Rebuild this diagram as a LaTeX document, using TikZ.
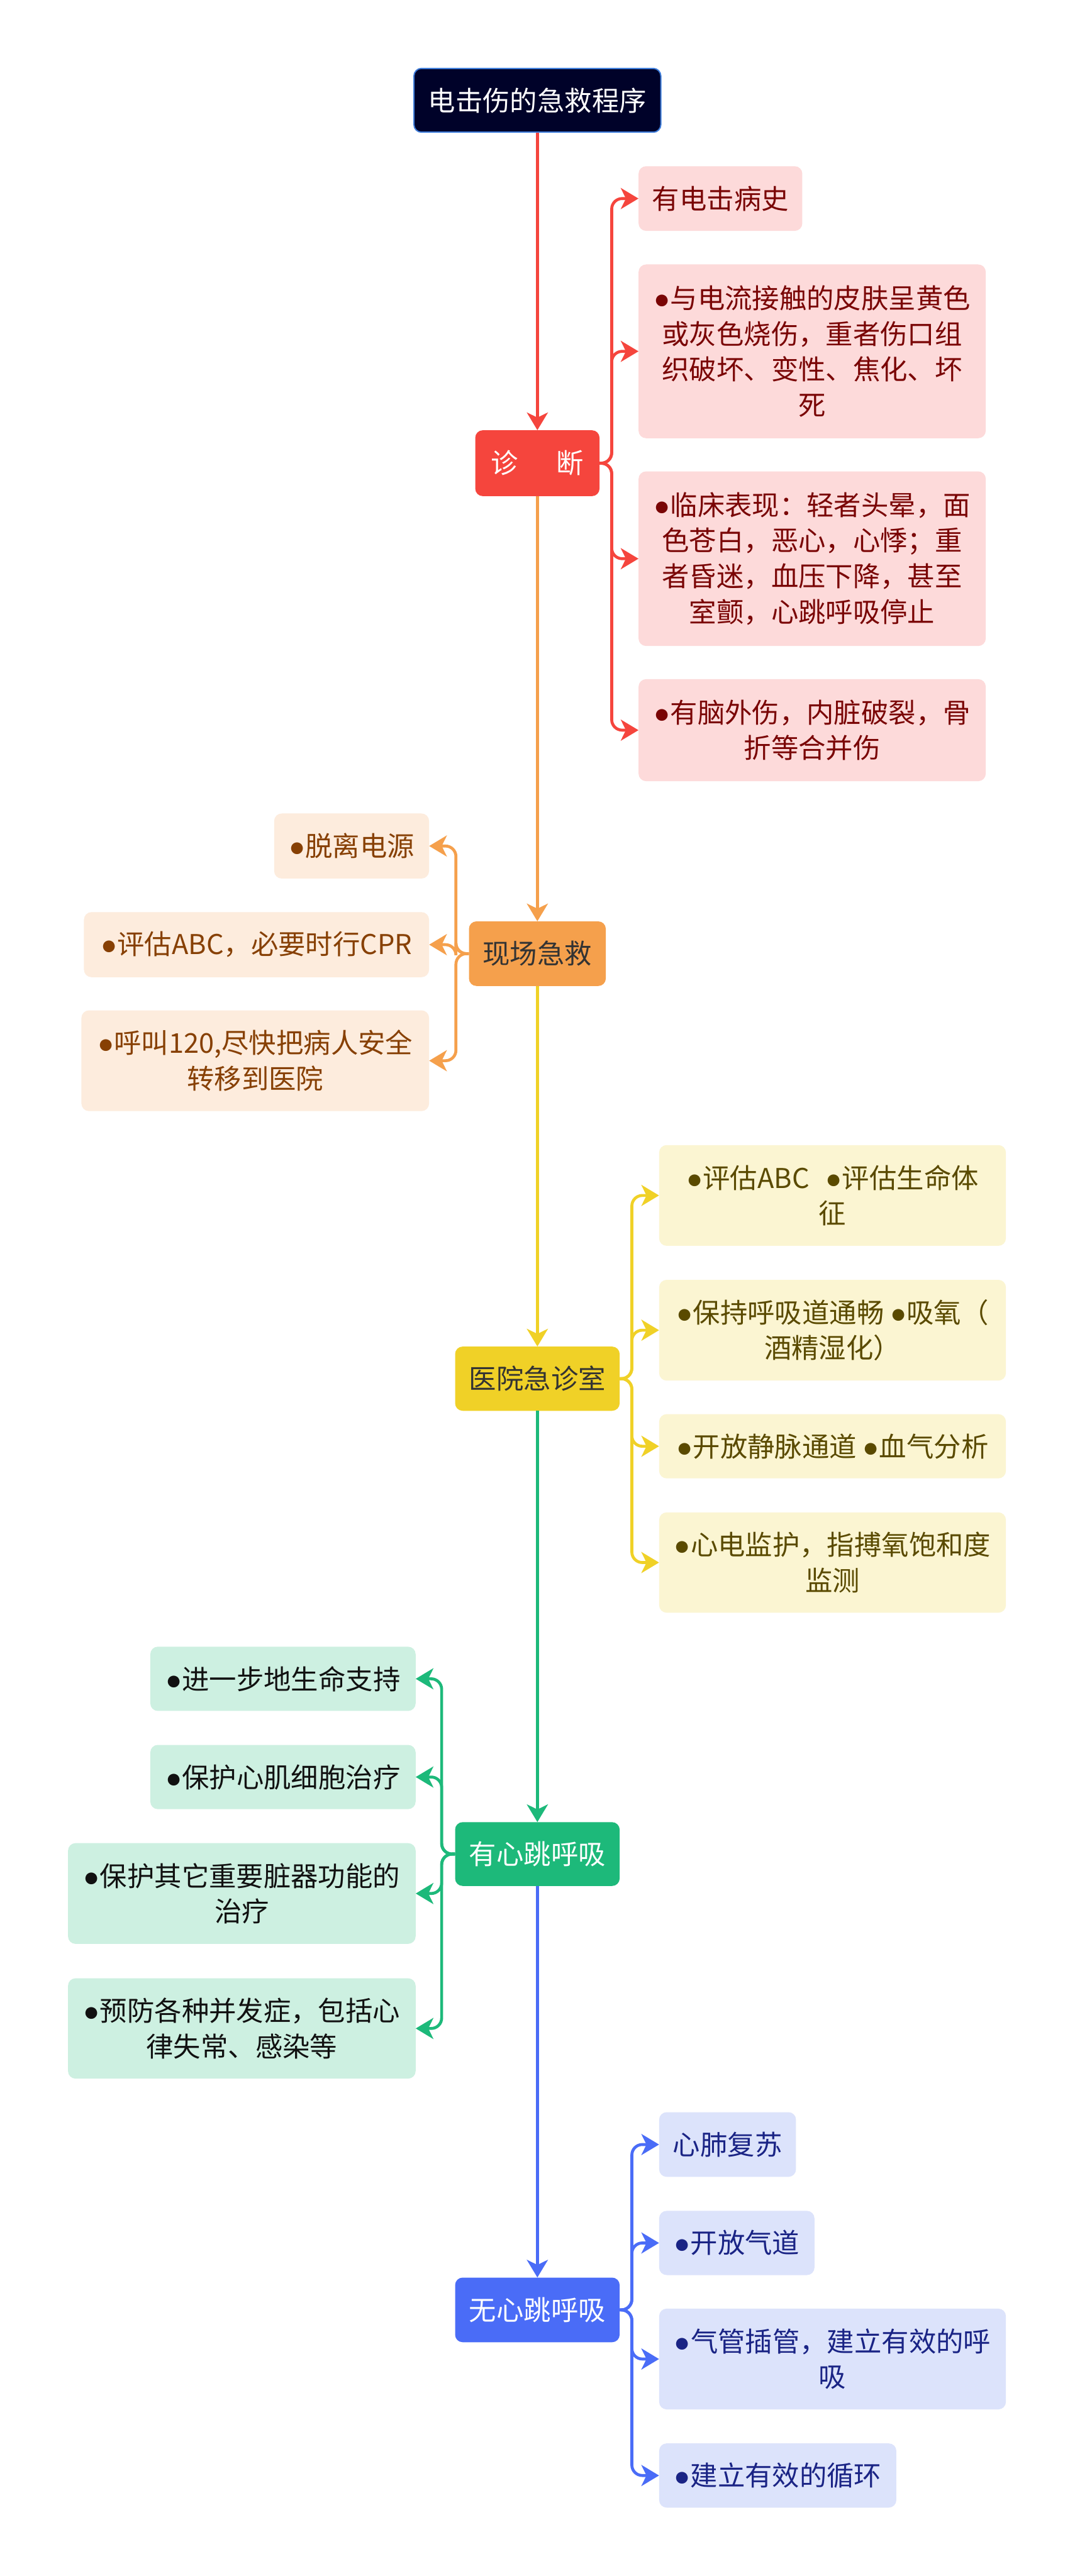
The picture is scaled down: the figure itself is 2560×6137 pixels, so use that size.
\documentclass[tikz,border=0pt]{standalone}
\usepackage{fontspec}
\setmainfont{Noto Sans CJK SC}
\newfontfamily\bulfont{Liberation Sans}
\usetikzlibrary{arrows.meta}
\newcommand\bulletmark{{\bulfont ●}}
\definecolor{rootfill}{HTML}{000229}
\definecolor{rootdraw}{HTML}{3D7BD9}
\definecolor{cR}{HTML}{F5453D}
\definecolor{cO}{HTML}{F5A04C}
\definecolor{cY}{HTML}{F0D127}
\definecolor{cG}{HTML}{1DB97A}
\definecolor{cB}{HTML}{4A6CF7}
\definecolor{fR}{HTML}{FDDADA}
\definecolor{fO}{HTML}{FDECDD}
\definecolor{fY}{HTML}{FBF5D2}
\definecolor{fG}{HTML}{CDF0E1}
\definecolor{fB}{HTML}{DCE3FB}
\definecolor{tR}{HTML}{7A0505}
\definecolor{tO}{HTML}{874004}
\definecolor{tY}{HTML}{5A4A00}
\definecolor{tG}{HTML}{111111}
\definecolor{tB}{HTML}{1A2485}
\definecolor{tD}{HTML}{333333}
\tikzset{
  box/.style={rounded corners=18pt, inner sep=0pt, align=center,
    font=\fontsize{65pt}{85pt}\selectfont},
  rootbox/.style={box, fill=rootfill, draw=rootdraw, line width=3pt, text=white},
  pR/.style={box, fill=cR, text=white},
  pO/.style={box, fill=cO, text=tD},
  pY/.style={box, fill=cY, text=tD},
  pG/.style={box, fill=cG, text=white},
  pB/.style={box, fill=cB, text=white},
  kR/.style={box, fill=fR, text=tR},
  kO/.style={box, fill=fO, text=tO},
  kY/.style={box, fill=fY, text=tY},
  kG/.style={box, fill=fG, text=tG},
  kB/.style={box, fill=fB, text=tB},
  conn/.style={line width=7pt, rounded corners=25pt,
    -{Stealth[length=42pt, width=50pt, inset=12pt]}},
}
\begin{document}
\begin{tikzpicture}[x=1pt, y=-1pt]
\useasboundingbox (0,0) rectangle (2560,6137);
\fill[white] (0,0) rectangle (2560,6137);

% main nodes
\node[rootbox, minimum width=588pt, minimum height=152pt] (root) at (1280,239) {电击伤的急救程序};
\node[pR, minimum width=296pt, minimum height=157pt] (d) at (1280,1103.5) {诊\hspace{1.4em}断};
\node[pO, minimum width=326pt, minimum height=154pt] (s) at (1280,2272) {现场急救};
\node[pY, minimum width=392pt, minimum height=153pt] (h) at (1280,3284.5) {医院急诊室};
\node[pG, minimum width=392pt, minimum height=152pt] (g) at (1280,4417) {有心跳呼吸};
\node[pB, minimum width=392pt, minimum height=154pt] (b) at (1280,5503) {无心跳呼吸};

% red children
\node[kR, minimum width=390pt, minimum height=154pt] (r1) at (1716,473) {有电击病史};
\node[kR, minimum width=827pt, minimum height=414pt] (r2) at (1934.5,837) {\bulletmark 与电流接触的皮肤呈黄色\\或灰色烧伤，重者伤口组\\织破坏、变性、焦化、坏\\死};
\node[kR, minimum width=827pt, minimum height=416pt] (r3) at (1934.5,1331) {\bulletmark 临床表现：轻者头晕，面\\色苍白，恶心，心悸；重\\者昏迷，血压下降，甚至\\室颤，心跳呼吸停止};
\node[kR, minimum width=827pt, minimum height=243pt] (r4) at (1934.5,1739.5) {\bulletmark 有脑外伤，内脏破裂，骨\\折等合并伤};

% orange children
\node[kO, minimum width=369pt, minimum height=155pt] (o1) at (837.5,2015.5) {\bulletmark 脱离电源};
\node[kO, minimum width=822pt, minimum height=155pt] (o2) at (611,2250.5) {\bulletmark 评估ABC，必要时行CPR};
\node[kO, minimum width=828pt, minimum height=240pt] (o3) at (608,2527) {\bulletmark 呼叫120,尽快把病人安全\\转移到医院};

% yellow children
\node[kY, minimum width=826pt, minimum height=240pt] (y1) at (1983,2848) {\bulletmark 评估ABC\hspace{0.6em}\bulletmark 评估生命体\\征};
\node[kY, minimum width=826pt, minimum height=240pt] (y2) at (1983,3169) {\bulletmark 保持呼吸道通畅 \bulletmark 吸氧（\\酒精湿化）};
\node[kY, minimum width=826pt, minimum height=153pt] (y3) at (1983,3445.5) {\bulletmark 开放静脉通道 \bulletmark 血气分析};
\node[kY, minimum width=826pt, minimum height=239pt] (y4) at (1983,3722.5) {\bulletmark 心电监护，指搏氧饱和度\\监测};

% green children
\node[kG, minimum width=632pt, minimum height=153pt] (g1) at (674,3999.5) {\bulletmark 进一步地生命支持};
\node[kG, minimum width=632pt, minimum height=153pt] (g2) at (674,4233.5) {\bulletmark 保护心肌细胞治疗};
\node[kG, minimum width=828pt, minimum height=240pt] (g3) at (576,4511) {\bulletmark 保护其它重要脏器功能的\\治疗};
\node[kG, minimum width=828pt, minimum height=239pt] (g4) at (576,4832.5) {\bulletmark 预防各种并发症，包括心\\律失常、感染等};

% blue children
\node[kB, minimum width=326pt, minimum height=154pt] (b1) at (1733,5109) {心肺复苏};
\node[kB, minimum width=370pt, minimum height=153pt] (b2) at (1755,5343.5) {\bulletmark 开放气道};
\node[kB, minimum width=826pt, minimum height=240pt] (b3) at (1983,5620) {\bulletmark 气管插管，建立有效的呼\\吸};
\node[kB, minimum width=565pt, minimum height=153pt] (b4) at (1852.5,5897.5) {\bulletmark 建立有效的循环};

% trunk
\draw[conn, draw=cR, fill=cR] (root.south) -- (d.north);
\draw[conn, draw=cO, fill=cO] (d.south) -- (s.north);
\draw[conn, draw=cY, fill=cY] (s.south) -- (h.north);
\draw[conn, draw=cG, fill=cG] (h.south) -- (g.north);
\draw[conn, draw=cB, fill=cB] (g.south) -- (b.north);

% branch x positions
\coordinate (xR) at (1457,0);
\coordinate (xO) at (1086,0);
\coordinate (xY) at (1505,0);
\coordinate (xG) at (1052,0);
\coordinate (xB) at (1505,0);

\foreach \c in {r1,r2,r3,r4}
  \draw[conn, draw=cR] (d.east) -- (d.east -| xR) -- (xR |- \c.west) -- (\c.west);
\foreach \c in {o1,o2,o3}
  \draw[conn, draw=cO] (s.west) -- (s.west -| xO) -- (xO |- \c.east) -- (\c.east);
\foreach \c in {y1,y2,y3,y4}
  \draw[conn, draw=cY] (h.east) -- (h.east -| xY) -- (xY |- \c.west) -- (\c.west);
\foreach \c in {g1,g2,g3,g4}
  \draw[conn, draw=cG] (g.west) -- (g.west -| xG) -- (xG |- \c.east) -- (\c.east);
\foreach \c in {b1,b2,b3,b4}
  \draw[conn, draw=cB] (b.east) -- (b.east -| xB) -- (xB |- \c.west) -- (\c.west);
\end{tikzpicture}
\end{document}
